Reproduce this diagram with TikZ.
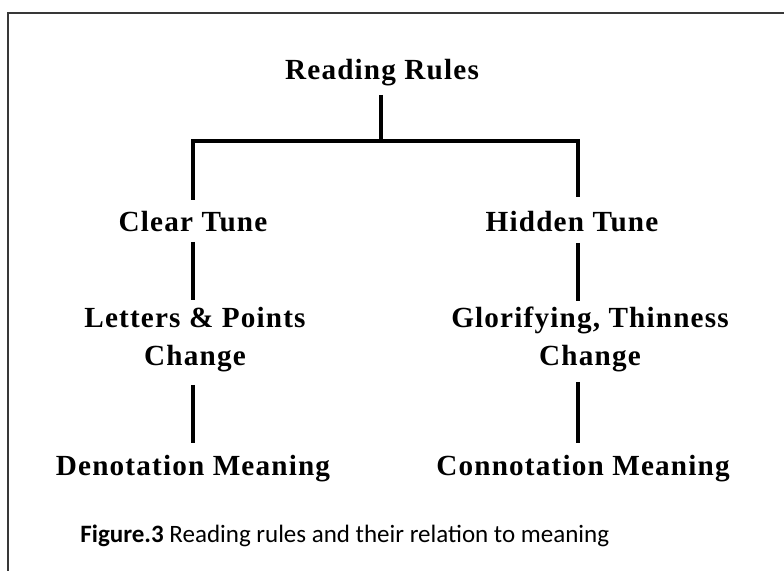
\documentclass[tikz,border=0pt]{standalone}
\usepackage{fontspec}
\usetikzlibrary{calc}
\setmainfont{Liberation Serif}
\newfontfamily\capfont{Carlito}
\newfontfamily\lblfont{Liberation Serif}[LetterSpace=4]
\begin{document}
\begin{tikzpicture}[x=0.5pt,y=-0.5pt,
  lbl/.style={font=\lblfont\bfseries\fontsize{14.6}{19}\selectfont, inner sep=0pt, align=center},
  conn/.style={line width=2.3pt, line join=miter, draw=black},
  frame/.style={line width=1pt, draw=black!78}]
\useasboundingbox (0,0) rectangle (784,571);
\clip (0,0) rectangle (784,571);
\draw[frame] (8,13) rectangle (800,600);
% nodes
\node[lbl, anchor=base] (rr) at (382,80) {Reading Rules};
\node[lbl, anchor=base] (ct) at (193,232) {Clear Tune};
\node[lbl, anchor=base] (ht) at (572,232) {Hidden Tune};
\node[lbl, anchor=north] (lp) at (195,307) {Letters \& Points\\Change};
\node[lbl, anchor=north] (gt) at (590,307) {Glorifying, Thinness\\Change};
\node[lbl, anchor=base] (dm) at (193,476) {Denotation Meaning};
\node[lbl, anchor=base] (cm) at (583,476) {Connotation Meaning};
\node[anchor=base west, inner sep=0pt, font=\capfont\fontsize{12.5}{15}\selectfont] (cap) at (80,543) {\textbf{Figure.3} Reading rules and their relation to meaning};
% junctions
\coordinate (bar) at (381,141);
\coordinate (vl) at (193,141);
\coordinate (vr) at (578,141);
% connectors
\draw[conn] ($(rr.base)+(-1,15)$) -- (bar);
\draw[conn] ($(vl |- ct.base)+(0,-32)$) |- (bar) -| ($(vr |- ht.base)+(0,-35)$);
\draw[conn] ($(vl |- ct.base)+(0,10)$) -- ($(vl |- lp.north)+(0,-7)$);
\draw[conn] ($(vr |- ht.base)+(0,11)$) -- ($(vr |- gt.north)+(0,-6)$);
\draw[conn] ($(vl |- dm.base)+(0,-91)$) -- ($(vl |- dm.base)+(0,-33)$);
\draw[conn] ($(vr |- cm.base)+(0,-94)$) -- ($(vr |- cm.base)+(0,-33)$);
\end{tikzpicture}
\end{document}
